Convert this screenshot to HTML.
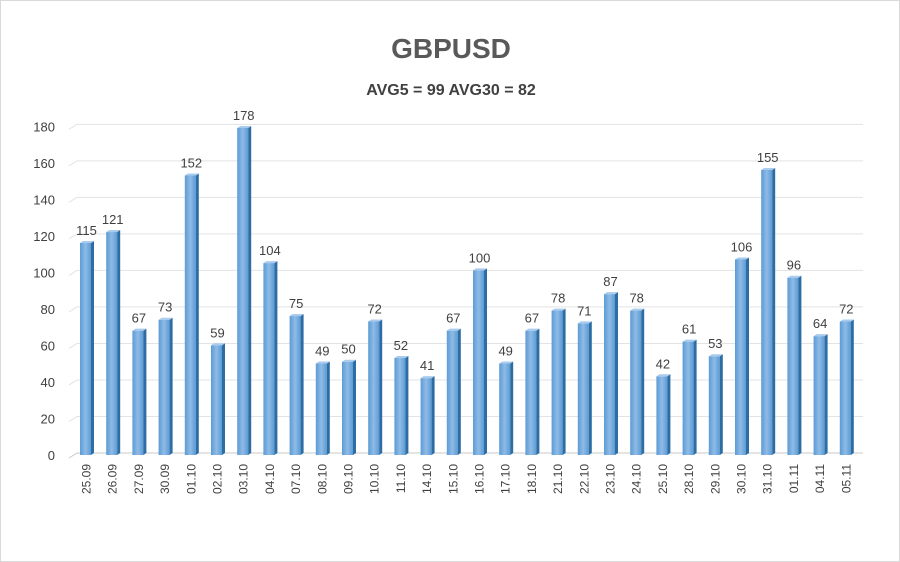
<!DOCTYPE html>
<html><head><meta charset="utf-8"><style>
body{margin:0;background:#fff}
#wrap{width:898px;height:560px;border:1px solid #d9d9d9;position:relative;overflow:hidden}
text{font-family:"Liberation Sans",sans-serif}
</style></head><body>
<div id="wrap">
<svg id="c" width="900" height="562"></svg>
</div>
<script>
const categories=["25.09","26.09","27.09","30.09","01.10","02.10","03.10","04.10","07.10","08.10","09.10","10.10","11.10","14.10","15.10","16.10","17.10","18.10","21.10","22.10","23.10","24.10","25.10","28.10","29.10","30.10","31.10","01.11","04.11","05.11"];
const values=[115,121,67,73,152,59,178,104,75,49,50,72,52,41,67,100,49,67,78,71,87,78,42,61,53,106,155,96,64,72];
const yTicks=[0,20,40,60,80,100,120,140,160,180];
const ns="http://www.w3.org/2000/svg";
const svg=document.getElementById('c');
function el(t,a,p){const e=document.createElementNS(ns,t);for(const k in a)e.setAttribute(k,a[k]);(p||svg).appendChild(e);return e;}
const y0=452,ppu=1.826;
const y=v=>y0-v*ppu;
const x=i=>84.5+i*26.2;
const defs=el('defs',{});
const g=el('linearGradient',{id:'bg',x1:0,x2:1,y1:0,y2:0},defs);
el('stop',{offset:0,'stop-color':'#5b9bd5'},g);el('stop',{offset:0.5,'stop-color':'#8fbbe6'},g);el('stop',{offset:1,'stop-color':'#5b9bd5'},g);
let t=el('text',{x:450,y:57,'text-anchor':'middle','font-size':28,'font-weight':'bold',fill:'#595959'});t.textContent='GBPUSD';

t=el('text',{x:450,y:94,'text-anchor':'middle','font-size':16,'font-weight':'bold',fill:'#404040'});t.textContent='AVG5 = 99 AVG30 = 82';

yTicks.forEach(v=>{
 const yy=y(v);
 const p=el('polyline',{points:`68,${yy+5} 76,${yy} 862,${yy}`,fill:'none',stroke:v===0?'#c8c8c8':'#e3e3e3','stroke-width':1});
 
 const l=el('text',{x:54,y:yy+7,'text-anchor':'end','font-size':13,fill:'#404040'});l.textContent=v;
 
});
values.forEach((v,i)=>{
 const cx=x(i),top=y(v);
 const b=el('g',{});
 
 el('rect',{x:cx-5.5,y:top,width:11,height:y0+2-top,fill:'url(#bg)'},b);
 el('polygon',{points:`${cx+5.5},${top} ${cx+8.5},${top-2} ${cx+8.5},${y0} ${cx+5.5},${y0+2}`,fill:'#2e6da4'},b);
 el('polygon',{points:`${cx-5.5},${top} ${cx-2.5},${top-2} ${cx+8.5},${top-2} ${cx+5.5},${top}`,fill:'#a9cbee'},b);
 const vl=el('text',{x:cx+1,y:top-8,'text-anchor':'middle','font-size':13,fill:'#404040'});vl.textContent=v;
 
 const cl=el('text',{x:0,y:0,'text-anchor':'end','font-size':12,fill:'#404040',transform:`translate(${cx+5},463) rotate(-90)`});cl.textContent=categories[i];
 
});
</script>
</body></html>
